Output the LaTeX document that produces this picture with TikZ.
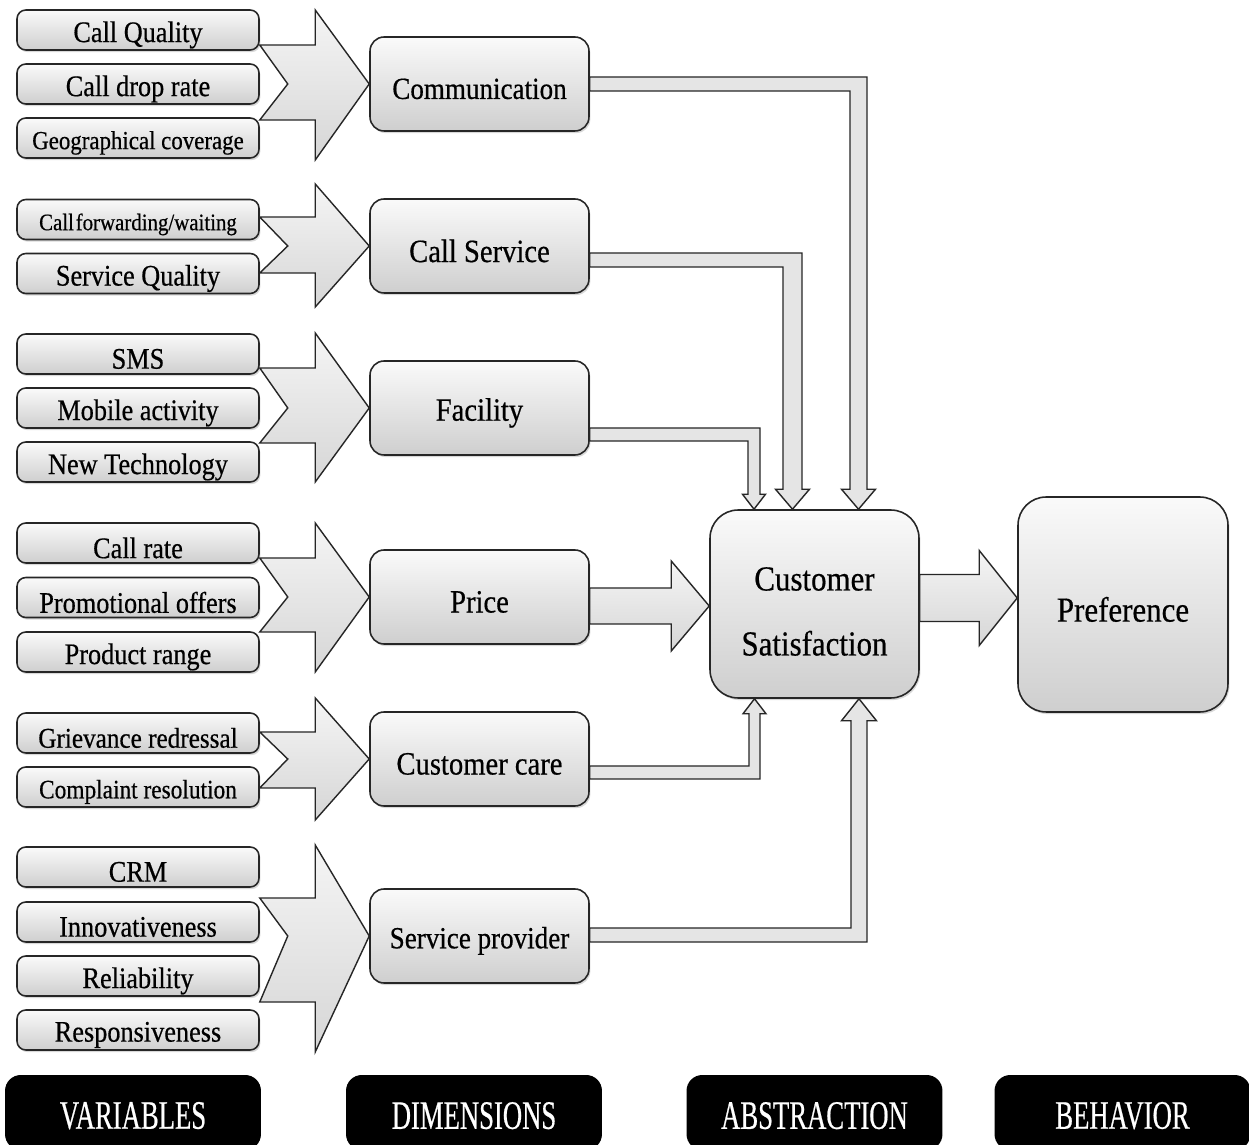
\documentclass[tikz,border=0pt]{standalone}
\usepackage{fontspec}
\setmainfont[FakeStretch=0.88,FakeBold=0.5]{Liberation Serif}
\newfontfamily\capfont[FakeStretch=0.66,FakeBold=0.5]{Liberation Serif}
\usetikzlibrary{calc,shadows}
\newcommand\pxu{0.02cm}
\newcommand\dn[1]{\raisebox{-2.8pt}[\height][\depth]{#1}}
\newcommand\dnl[1]{\raisebox{-1.8pt}[\height][\depth]{#1}}
\tikzset{
  varbox/.style={draw=black!85, line width=0.9pt, rounded corners=5pt, top color=gray!4, bottom color=gray!38,
    minimum width=4.84cm, minimum height=0.8cm, inner sep=0pt, font=\fontsize{17}{17}\selectfont,
    drop shadow={opacity=0.3, shadow xshift=0.8pt, shadow yshift=-1.2pt}},
  dimbox/.style={varbox, rounded corners=8pt, minimum width=4.38cm, minimum height=1.88cm, font=\fontsize{18.5}{20}\selectfont},
  bigbox/.style={varbox, rounded corners=16pt, font=\fontsize{20}{37}\selectfont},
  labbox/.style={fill=black, rounded corners=9pt, minimum width=5.12cm, minimum height=1.5cm, inner sep=0pt,
    text=white, font=\capfont\fontsize{23}{24}\selectfont},
  bigarrow/.style={draw=black!85, line width=0.8pt, top color=gray!8, bottom color=gray!32, line join=miter},
  conn/.style={draw=black!85, line width=0.8pt, fill=gray!20, line join=miter},
}
% notched group arrow: #1 tail node, #2 tip node, #3 head top, #4 head bottom, #5 shaft top, #6 shaft bottom (px)
\newcommand\grouparrow[6]{%
  \path[bigarrow] let \p1=(#1.east), \p2=(#2.west) in
    (\x1,{-#5*\pxu}) -- ({\x2-54*\pxu},{-#5*\pxu}) -- ({\x2-54*\pxu},{-#3*\pxu}) -- (\x2,\y2)
    -- ({\x2-54*\pxu},{-#4*\pxu}) -- ({\x2-54*\pxu},{-#6*\pxu}) -- (\x1,{-#6*\pxu})
    -- ({\x1+28*\pxu},\y2) -- cycle;}
% down connector into cs.north: #1 src, #2 y offset, #3 xc, #4 bar half, #5 vertical half, #6 head half, #7 head length
\newcommand\conndown[7]{%
  \path[conn] let \p1=(#1.east), \p2=(cs.north) in
    (\x1,{\y1-(#2-#4)*\pxu}) -- ({(#3+#5)*\pxu},{\y1-(#2-#4)*\pxu}) -- ({(#3+#5)*\pxu},{\y2+#7*\pxu})
    -- ({(#3+#6)*\pxu},{\y2+#7*\pxu}) -- ({#3*\pxu},\y2) -- ({(#3-#6)*\pxu},{\y2+#7*\pxu})
    -- ({(#3-#5)*\pxu},{\y2+#7*\pxu}) -- ({(#3-#5)*\pxu},{\y1-(#2+#4)*\pxu}) -- (\x1,{\y1-(#2+#4)*\pxu}) -- cycle;}
% up connector into cs.south
\newcommand\connup[7]{%
  \path[conn] let \p1=(#1.east), \p2=(cs.south) in
    (\x1,{\y1-(#2-#4)*\pxu}) -- ({(#3-#5)*\pxu},{\y1-(#2-#4)*\pxu}) -- ({(#3-#5)*\pxu},{\y2-#7*\pxu})
    -- ({(#3-#6)*\pxu},{\y2-#7*\pxu}) -- ({#3*\pxu},\y2) -- ({(#3+#6)*\pxu},{\y2-#7*\pxu})
    -- ({(#3+#5)*\pxu},{\y2-#7*\pxu}) -- ({(#3+#5)*\pxu},{\y1-(#2+#4)*\pxu}) -- (\x1,{\y1-(#2+#4)*\pxu}) -- cycle;}
% straight block arrow: #1 src, #2 tgt, #3 y centre px, #4 shaft half, #5 head half, #6 head length
\newcommand\connright[6]{%
  \path[bigarrow] let \p1=(#1.east), \p2=(#2.west) in
    (\x1,{-(#3-#4)*\pxu}) -- ({\x2-#6*\pxu},{-(#3-#4)*\pxu}) -- ({\x2-#6*\pxu},{-(#3-#5)*\pxu}) -- (\x2,{-#3*\pxu})
    -- ({\x2-#6*\pxu},{-(#3+#5)*\pxu}) -- ({\x2-#6*\pxu},{-(#3+#4)*\pxu}) -- (\x1,{-(#3+#4)*\pxu}) -- cycle;}
\begin{document}
\begin{tikzpicture}[x=0.02cm,y=-0.02cm]
\useasboundingbox (0,0) rectangle (1249,1145);
\fill[white] (0,0) rectangle (1249,1145);
% variables
\node[varbox] (v11) at (138,30) {\dn{Call Quality}};
\node[varbox] (v12) at (138,84) {\dn{Call drop rate}};
\node[varbox, font=\fontsize{14.8}{15}\selectfont] (v13) at (138,138) {\dn{Geographical coverage}};
\node[varbox, font=\fontsize{13.5}{14}\selectfont] (v21) at (138,219.5) {\dn{Call\kern1pt forwarding/waiting}};
\node[varbox] (v22) at (138,273.5) {\dn{Service Quality}};
\node[varbox] (v31) at (138,354) {\dn{SMS}};
\node[varbox] (v32) at (138,408) {\dn{Mobile activity}};
\node[varbox] (v33) at (138,462) {\dn{New Technology}};
\node[varbox] (v41) at (138,543) {\dn{Call rate}};
\node[varbox] (v42) at (138,597.5) {\dn{Promotional offers}};
\node[varbox] (v43) at (138,652) {\dn{Product range}};
\node[varbox, font=\fontsize{16.3}{17}\selectfont] (v51) at (138,733) {\dn{Grievance redressal}};
\node[varbox, font=\fontsize{15.1}{16}\selectfont] (v52) at (138,787) {\dn{Complaint resolution}};
\node[varbox] (v61) at (138,867) {\dn{CRM}};
\node[varbox] (v62) at (138,922) {\dn{Innovativeness}};
\node[varbox] (v63) at (138,976) {\dn{Reliability}};
\node[varbox] (v64) at (138,1030) {\dn{Responsiveness}};
% dimensions
\node[dimbox, font=\fontsize{17.5}{18}\selectfont] (comm) at (479.5,84) {\dn{Communication}};
\node[dimbox] (csrv) at (479.5,246) {\dn{Call Service}};
\node[dimbox] (fac) at (479.5,408) {\dn{Facility}};
\node[dimbox] (price) at (479.5,597) {\dn{Price}};
\node[dimbox] (care) at (479.5,759) {\dn{Customer care}};
\node[dimbox, font=\fontsize{17.5}{18}\selectfont] (prov) at (479.5,936) {\dn{Service provider}};
% abstraction / behaviour
\node[bigbox, minimum width=4.18cm, minimum height=3.76cm] (cs) at (814.5,604)
  {\raisebox{-3.4pt}[\height][\depth]{\begin{tabular}{@{}c@{}}Customer\\Satisfaction\end{tabular}}};
\node[bigbox, minimum width=4.2cm, minimum height=4.3cm] (pref) at (1123,604.5) {\dn{Preference}};
% group arrows
\grouparrow{v11}{comm}{10}{160}{45}{120}
\grouparrow{v21}{csrv}{184}{307}{217}{273}
\grouparrow{v31}{fac}{333}{482}{368}{443}
\grouparrow{v41}{price}{523}{672}{558}{632}
\grouparrow{v51}{care}{698}{820}{732}{788}
\grouparrow{v61}{prov}{845}{1052}{898}{1002}
% connectors to customer satisfaction
\conndown{comm}{0}{858.5}{7}{8.5}{17}{20}
\conndown{csrv}{14}{792.5}{7}{9.5}{17}{20}
\conndown{fac}{26.5}{754}{6.5}{6}{11.5}{15}
\connup{care}{13.5}{754.5}{6.5}{5.5}{11.5}{15}
\connup{prov}{-1}{859}{7}{8}{17.5}{22}
\connright{price}{cs}{606}{18}{45}{38}
\connright{cs}{pref}{598}{23.5}{47.5}{38}
% bottom labels
\node[labbox] (lvar) at (133,1112.5) {\dnl{VARIABLES}};
\node[labbox] (ldim) at (474,1112.5) {\dnl{DIMENSIONS}};
\node[labbox] (labs) at (814.5,1112.5) {\dnl{ABSTRACTION}};
\node[labbox] (lbeh) at (1122.5,1112.5) {\dnl{BEHAVIOR}};
\end{tikzpicture}
\end{document}
